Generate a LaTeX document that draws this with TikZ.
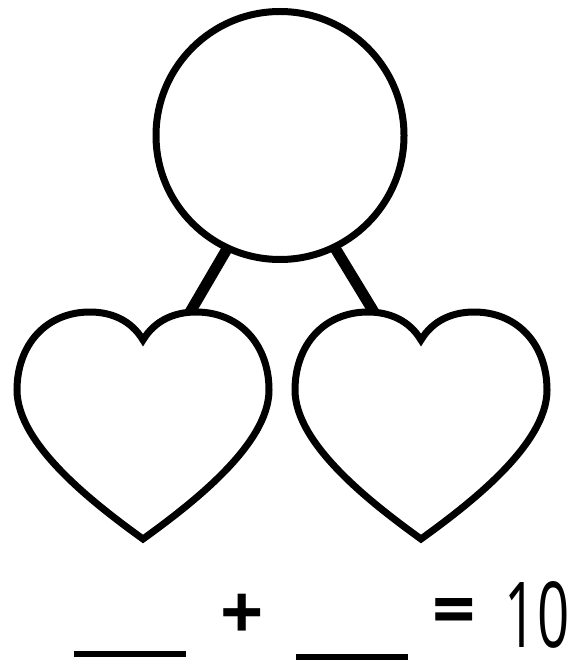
\documentclass[tikz,border=0pt]{standalone}
\usepackage{fontspec}
\setmainfont{Open Sans}
\usetikzlibrary{positioning}

\tikzset{
  heart/.pic={
    \draw[line width=7pt, fill=white, line join=miter]
      (0,0) .. controls (12,-20) and (32,-28) .. (53,-28)
      .. controls (97,-28) and (126,5) .. (126,50)
      .. controls (126,105) and (47,165) .. (0,199)
      .. controls (-47,165) and (-126,105) .. (-126,50)
      .. controls (-126,5) and (-97,-28) .. (-53,-28)
      .. controls (-32,-28) and (-12,-20) .. (0,0) -- cycle;
    \coordinate (-rlobe) at (47,-27.8);
    \coordinate (-llobe) at (-47,-27.8);
  }
}

\begin{document}
\begin{tikzpicture}[x=1pt, y=-1pt,
                ring/.style={circle, draw, line width=7pt, inner sep=0pt, outer sep=0pt, minimum size=248pt, fill=white},
                stem/.style={line width=11pt},
                blank/.style={rectangle, fill=black, inner sep=0pt, minimum width=112pt, minimum height=6pt},
                sign/.style={inner sep=0pt, font=\fontsize{76}{76}\selectfont},
                total/.style={inner sep=0pt, anchor=base, font=\fontsize{91}{91}\selectfont}
            ]
                \useasboundingbox (0,0) rectangle (579,660);

                \node[ring] (whole) at (280,135.5) {};

                \pic (lpart) at (143,340) {heart};
                \pic (rpart) at (421,340) {heart};

                \draw[stem] (whole.245.5) -- (lpart-rlobe);
                \draw[stem] (whole.296) -- (rpart-llobe);

                % number sentence
                \node[blank] (first) at (130,654) {};
                \node[sign] (plus) at (242,617) {\textbf{+}};
                \node[blank] (second) at (351.5,657) {};
                \node[sign] (equals) at (454,617) {\textbf{=}};
                \node[total] (ten) at (537,647) {\scalebox{0.62}[1]{10}};
            \end{tikzpicture}
\end{document}
